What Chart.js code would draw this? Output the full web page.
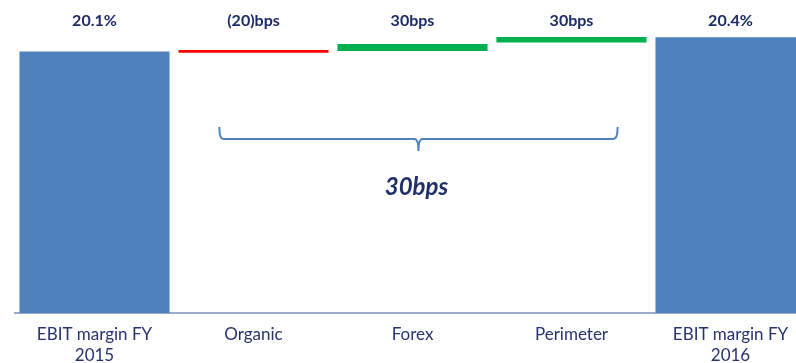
<!DOCTYPE html>
<html>
<head>
<meta charset="utf-8">
<script src="https://cdn.jsdelivr.net/npm/chart.js@4.4.0/dist/chart.umd.min.js"></script>
<style>
    html, body { margin: 0; padding: 0; background: #fff; overflow: hidden; }
    .chart-box { width: 812px; height: 363px; position: relative; }
</style>
</head>
<body>
<div class="chart-box"><canvas id="bridge"></canvas></div>
<script>
// categories and values (EBIT margin bridge, %)
const categories = [['EBIT margin FY', '2015'], 'Organic', 'Forex', 'Perimeter', ['EBIT margin FY', '2016']];
const totals = [20.1, null, null, null, 20.4];
const stepLow = [null, 20.07, 20.11, 20.29, null];
const stepHigh = [null, 20.13, 20.26, 20.41, null];
const stepColors = ['#ff0000', '#ff0000', '#00b050', '#00b050', '#00b050'];
const topLabels = ['20.1%', '(20)bps', '30bps', '30bps', '20.4%'];
const braceLabel = '30bps';
const axisMin = 14.5;
const axisMax = 21.2;

const NAVY = '#1c2a66';
const FONT = 'Lato, "Open Sans", sans-serif';

const steps = stepLow.map((lo, i) => (lo === null ? null : [lo, stepHigh[i]]));

// value labels above each column + the brace with total change
const annotations = {
    id: 'annotations',
    afterDatasetsDraw(chart) {
        const { ctx, chartArea, scales: { x } } = chart;
        ctx.save();

        ctx.fillStyle = NAVY;
        ctx.font = `bold 16px ${FONT}`;
        ctx.textAlign = 'center';
        ctx.textBaseline = 'middle';
        topLabels.forEach((txt, i) => {
            ctx.fillText(txt, x.getPixelForValue(i), chartArea.top + 21);
        });

        // curly bracket spanning the three drivers
        const step = x.getPixelForValue(1) - x.getPixelForValue(0);
        const left = x.getPixelForValue(1) - 0.215 * step;
        const right = x.getPixelForValue(3) + 0.29 * step;
        const mid = (left + right) / 2;
        const top = chartArea.top + 127;
        const line = top + 12;
        ctx.strokeStyle = '#4f81bd';
        ctx.lineWidth = 2;
        ctx.beginPath();
        ctx.moveTo(left, top);
        ctx.quadraticCurveTo(left, line, left + 4, line);
        ctx.lineTo(mid - 4, line);
        ctx.quadraticCurveTo(mid, line, mid, line + 12);
        ctx.quadraticCurveTo(mid, line, mid + 4, line);
        ctx.lineTo(right - 4, line);
        ctx.quadraticCurveTo(right, line, right, top);
        ctx.stroke();

        ctx.fillStyle = '#1f3068';
        ctx.font = `italic bold 24px ${FONT}`;
        ctx.fillText(braceLabel, mid - 2, chartArea.top + 187);

        ctx.restore();
    }
};

new Chart(document.getElementById('bridge'), {
    type: 'bar',
    data: {
        labels: categories,
        datasets: [
            {
                label: 'EBIT margin',
                data: totals,
                backgroundColor: '#4f81bd',
                barPercentage: 0.944,
                categoryPercentage: 1
            },
            {
                label: 'Change',
                data: steps,
                backgroundColor: stepColors,
                barPercentage: 0.944,
                categoryPercentage: 1
            }
        ]
    },
    options: {
        responsive: true,
        maintainAspectRatio: false,
        animation: false,
        events: [],
        layout: { padding: { left: 15, right: 2, top: 0, bottom: 0 } },
        plugins: {
            legend: { display: false },
            tooltip: { enabled: false }
        },
        datasets: { bar: { grouped: false } },
        scales: {
            x: {
                grid: { display: false, drawTicks: false },
                border: { display: true, color: '#9aaccb', width: 2 },
                ticks: {
                    color: '#26336e',
                    font: { family: FONT, size: 17, lineHeight: 1.25 },
                    padding: 11,
                    maxRotation: 0,
                    autoSkip: false
                },
                afterFit(scale) { scale.height = 50; }
            },
            y: {
                display: false,
                min: axisMin,
                max: axisMax
            }
        }
    },
    plugins: [annotations]
});
</script>
</body>
</html>
